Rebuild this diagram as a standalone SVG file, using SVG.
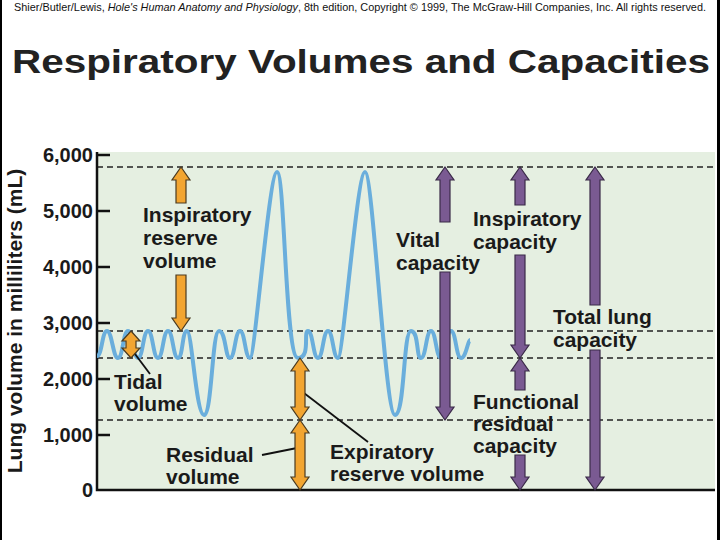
<svg xmlns="http://www.w3.org/2000/svg" width="720" height="540" viewBox="0 0 720 540">
<style>
.t{font-family:"Liberation Sans",Arial,sans-serif;font-weight:bold;font-size:21px;fill:#1a1a1a}
.ax{font-family:"Liberation Sans",Arial,sans-serif;font-weight:bold;font-size:20px;fill:#1a1a1a;text-anchor:end}
.dash{stroke:#222;stroke-width:1.3;stroke-dasharray:6 4;fill:none}
.or{fill:#f2a531;stroke:#4a3a20;stroke-width:1.2}
.pu{fill:#7a5a92;stroke:#3a2a48;stroke-width:1.2}
.lead{stroke:#111;stroke-width:1.8;fill:none}
</style>
<rect width="720" height="540" fill="#fff"/>
<rect x="0" y="0" width="2" height="540" fill="#000"/>
<rect x="717" y="0" width="3" height="540" fill="#000"/>
<text x="14" y="11" font-family="'Liberation Sans',Arial,sans-serif" font-size="11" fill="#111" textLength="692" lengthAdjust="spacingAndGlyphs">Shier/Butler/Lewis, <tspan font-style="italic">Hole's Human Anatomy and Physiology</tspan>, 8th edition, Copyright © 1999, The McGraw-Hill Companies, Inc.  All rights reserved.</text>
<text x="12" y="73" font-family="'Liberation Sans',Arial,sans-serif" font-weight="bold" font-size="33" fill="#222" textLength="698" lengthAdjust="spacingAndGlyphs">Respiratory Volumes and Capacities</text>
<g id="plot">
<rect x="97" y="152" width="618" height="338" fill="#e5efe1"/>
<line class="dash" x1="97" y1="167" x2="715" y2="167"/>
<line class="dash" x1="97" y1="331" x2="715" y2="331"/>
<line class="dash" x1="97" y1="358" x2="715" y2="358"/>
<line class="dash" x1="97" y1="420" x2="715" y2="420"/>
<path d="M97,152V490H715" fill="none" stroke="#111" stroke-width="2.5"/>
<g stroke="#111" stroke-width="2.5">
<line x1="97" y1="155" x2="110" y2="155"/><line x1="97" y1="211" x2="110" y2="211"/><line x1="97" y1="267" x2="110" y2="267"/><line x1="97" y1="323" x2="110" y2="323"/><line x1="97" y1="379" x2="110" y2="379"/><line x1="97" y1="435" x2="110" y2="435"/>
</g>
<text class="ax" x="93" y="162">6,000</text>
<text class="ax" x="93" y="218">5,000</text>
<text class="ax" x="93" y="274">4,000</text>
<text class="ax" x="93" y="330">3,000</text>
<text class="ax" x="93" y="386">2,000</text>
<text class="ax" x="93" y="442">1,000</text>
<text class="ax" x="93" y="497">0</text>
<text class="t" transform="translate(22,321) rotate(-90)" text-anchor="middle">Lung volume in milliliters (mL)</text>
</g>
<g id="wave">
<path fill="none" stroke="#6aaedc" stroke-width="4" d="M97,356 C102,356 102,331 107,331 S113,358 118,358 S123,331 128,331 S133,358 138,358 S143,331 148,331 S153,358 158,358 S163,331 168,331 S173,358 178,358 S182,331 187,331 S196,415 204,415 S212,331 219,331 S225,358 230,358 S235,331 240,331 S245,358 250,358 S269,172 277,172 S285,358 298,358 S303,331 308,331 S313,358 318,358 S323,331 328,331 S333,358 338,358 S357,172 365,172 S385,415 395,415 S403,331 411,331 S416,358 421,358 S426,331 431,331 S436,358 441,358 S446,331 451,331 S456,358 461,358 S468,340 470,340"/>
</g>
<g id="connectors">
<line class="lead" x1="132" y1="350" x2="150" y2="374"/>
<line class="lead" x1="300" y1="390" x2="368" y2="442"/>
<line class="lead" x1="262" y1="455" x2="297" y2="448"/>
</g>
<g id="irv"><path class="or" d="M181,167L190,180H186V203H176V180H172Z M181,331L190,318H186V275H176V318H172Z"/>
<text class="t" x="143" y="222">Inspiratory</text><text class="t" x="143" y="245">reserve</text><text class="t" x="143" y="268">volume</text></g>
<g id="tidal"><path class="or" d="M131,331L140,341H136V348H140L131,358L122,348H126V341H122Z"/>
<text class="t" x="114" y="389">Tidal</text><text class="t" x="114" y="411">volume</text></g>
<g id="erv"><path class="or" d="M300,358L309,371H305V407H309L300,420L291,407H295V371H291Z"/>
<text class="t" x="330" y="459">Expiratory</text><text class="t" x="330" y="481">reserve volume</text></g>
<g id="rv"><path class="or" d="M300,420L309,433H305V477H309L300,490L291,477H295V433H291Z"/>
<text class="t" x="166" y="462">Residual</text><text class="t" x="166" y="484">volume</text></g>
<g id="vc"><path class="pu" d="M445,167L454,180H450V222H440V180H436Z M445,420L454,407H450V272H440V407H436Z"/>
<text class="t" x="396" y="247">Vital</text><text class="t" x="396" y="270">capacity</text></g>
<g id="ic"><path class="pu" d="M520,167L529,180H525V205H515V180H511Z M520,358L529,345H525V255H515V345H511Z"/>
<text class="t" x="473" y="226">Inspiratory</text><text class="t" x="473" y="249">capacity</text></g>
<g id="tlc"><path class="pu" d="M595,167L604,180H600V305H590V180H586Z M595,490L604,477H600V350H590V477H586Z"/>
<text class="t" x="553" y="324">Total lung</text><text class="t" x="553" y="347">capacity</text></g>
<g id="frc"><path class="pu" d="M520,358L529,371H525V390H515V371H511Z M520,490L529,477H525V455H515V477H511Z"/>
<text class="t" x="473" y="409">Functional</text><text class="t" x="473" y="431">residual</text><text class="t" x="473" y="453">capacity</text></g>
</svg>
